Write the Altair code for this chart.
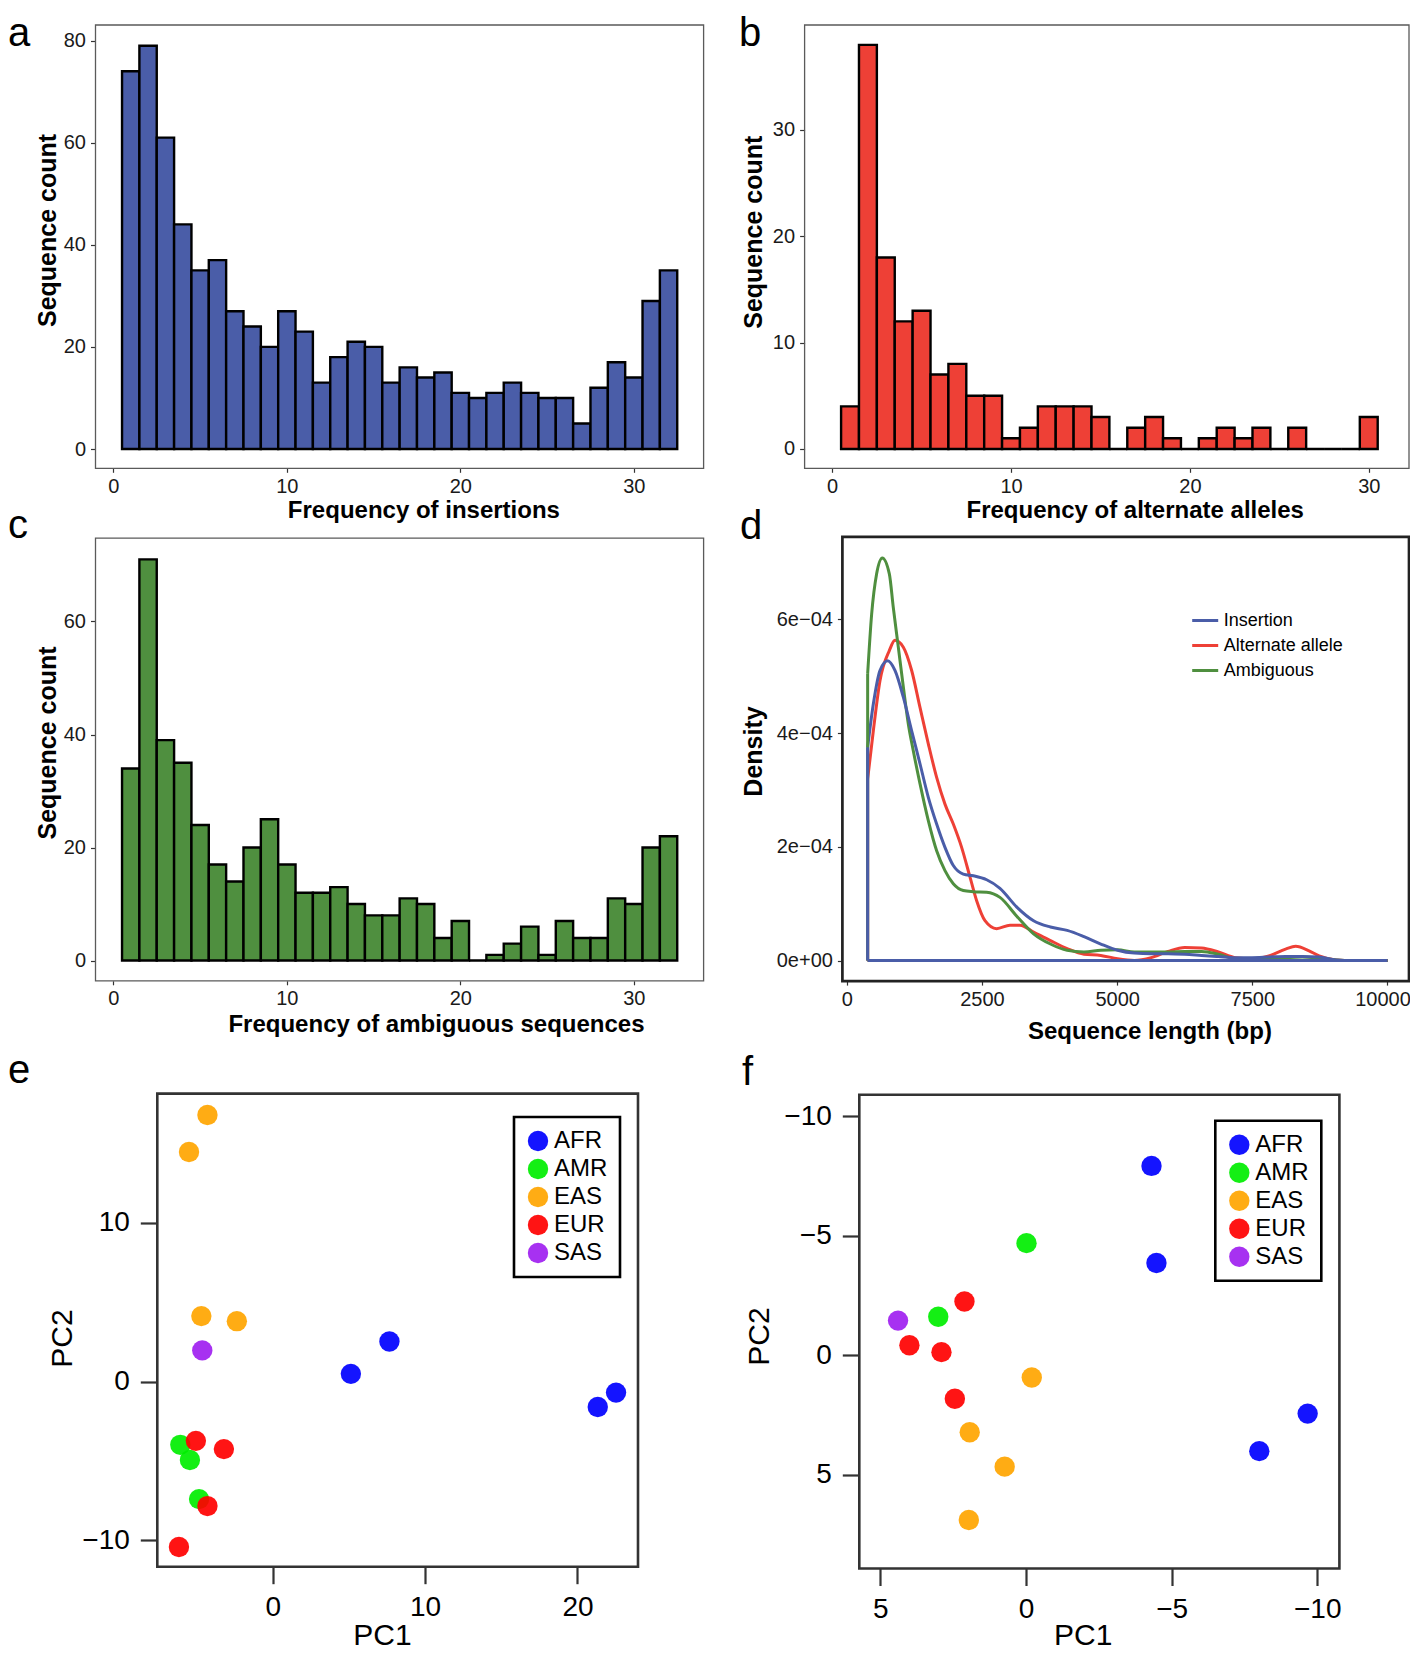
import altair as alt
import pandas as pd

W, H = 1402, 1644
FONT = "Liberation Sans, Arial, Helvetica, sans-serif"

# ---------------- data ----------------
ins_counts = [74, 79, 61, 44, 35, 37, 27, 24, 20, 27, 23, 13, 18, 21, 20, 13,
              16, 14, 15, 11, 10, 11, 13, 11, 10, 10, 5, 12, 17, 14, 29, 35]
alt_counts = [4, 38, 18, 12, 13, 7, 8, 5, 5, 1, 2, 4, 4, 4, 3, 0,
              2, 3, 1, 0, 1, 2, 1, 2, 0, 2, 0, 0, 0, 3]
amb_counts = [34, 71, 39, 35, 24, 17, 14, 20, 25, 17, 12, 12, 13, 10, 8, 8,
              11, 10, 4, 7, 0, 1, 3, 6, 1, 7, 4, 4, 11, 10, 20, 22]
hist_x_ticks = [0, 10, 20, 30]
a_y_ticks = [0, 20, 40, 60, 80]
b_y_ticks = [0, 10, 20, 30]
c_y_ticks = [0, 20, 40, 60]

# density curves (density in units of 1e-04)
ins_bp = [386, 491, 614, 756, 891, 1046, 1200, 1354, 1508, 1662, 1816, 1970, 2155, 2340,
          2587, 2833, 3144, 3455, 3766, 4076, 4387, 4698, 5008, 5319, 5630, 5941, 6251,
          6562, 6873, 7183, 7494, 7805, 8115, 8426, 8737, 9048, 9358, 9669, 10000]
ins_dens = [3.75, 4.51, 5.10, 5.27, 5.10, 4.63, 4.04, 3.46, 2.87, 2.40, 1.99, 1.67, 1.52, 1.49,
            1.42, 1.27, 0.94, 0.70, 0.59, 0.53, 0.42, 0.29, 0.18, 0.13, 0.12, 0.12, 0.11,
            0.09, 0.07, 0.05, 0.05, 0.06, 0.07, 0.07, 0.06, 0.01, 0.0, 0.0, 0.0]
alt_bp = [386, 491, 614, 787, 891, 1046, 1200, 1354, 1508, 1662, 1816, 1970, 2124, 2278,
          2402, 2556, 2772, 3018, 3203, 3455, 3766, 4076, 4387, 4698, 5008, 5319, 5630,
          5941, 6251, 6562, 6873, 7183, 7494, 7805, 8115, 8302, 8550, 8737, 9048, 9358, 10000]
alt_dens = [3.19, 4.04, 4.92, 5.45, 5.63, 5.51, 5.10, 4.45, 3.81, 3.22, 2.75, 2.40, 1.99, 1.47,
            1.05, 0.70, 0.56, 0.62, 0.62, 0.50, 0.35, 0.21, 0.11, 0.09, 0.03, 0.0, 0.05,
            0.16, 0.23, 0.22, 0.15, 0.05, 0.03, 0.08, 0.20, 0.25, 0.17, 0.08, 0.01, 0.0, 0.0]
amb_bp = [386, 460, 552, 657, 787, 860, 953, 1046, 1138, 1230, 1354, 1508, 1662, 1816,
          1970, 2155, 2340, 2587, 2833, 3144, 3455, 3766, 4076, 4387, 4698, 5008, 5319,
          5630, 5941, 6251, 6562, 6873, 7183, 7494, 7805, 8115, 8426, 8737, 9048, 9358, 10000]
amb_dens = [5.04, 6.09, 6.80, 7.08, 6.80, 6.21, 5.51, 4.81, 4.16, 3.69, 3.11, 2.46, 1.93, 1.58,
            1.35, 1.23, 1.21, 1.20, 1.11, 0.78, 0.47, 0.29, 0.18, 0.15, 0.18, 0.19, 0.15,
            0.15, 0.15, 0.16, 0.16, 0.11, 0.03, 0.01, 0.03, 0.05, 0.06, 0.04, 0.01, 0.0, 0.0]
dens_legend = ["Insertion", "Alternate allele", "Ambiguous"]
d_x_ticks = [0, 2500, 5000, 7500, 10000]
d_y_ticks = [0, 2, 4, 6]
d_y_labels = ["0e+00", "2e\u221204", "4e\u221204", "6e\u221204"]

pops = ["AFR", "AMR", "EAS", "EUR", "SAS"]
e_pop = ["AFR", "AFR", "AFR", "AFR", "AMR", "AMR", "AMR", "EAS", "EAS", "EAS", "EAS",
         "EUR", "EUR", "EUR", "EUR", "SAS"]
e_pc1 = [5.13, 7.66, 21.33, 22.53, -6.06, -5.43, -4.83, -4.28, -5.49, -4.68, -2.35,
         -5.04, -3.20, -4.28, -6.15, -4.62]
e_pc2 = [0.49, 2.53, -1.60, -0.69, -3.98, -4.94, -7.40, 16.8, 14.47, 4.13, 3.81,
         -3.73, -4.25, -7.84, -10.42, 1.97]
f_pop = ["AFR", "AFR", "AFR", "AFR", "AMR", "AMR", "EAS", "EAS", "EAS", "EAS",
         "EUR", "EUR", "EUR", "EUR", "SAS"]
f_pc1 = [-4.31, -4.48, -9.67, -8.01, -0.02, 3.01, -0.20, 1.93, 0.73, 1.96,
         2.11, 4.00, 2.90, 2.44, 4.39]
f_pc2 = [-7.92, -3.86, 2.44, 4.01, -4.69, -1.61, 0.93, 3.22, 4.66, 6.89,
         -2.25, -0.42, -0.13, 1.82, -1.45]
e_x_ticks = [0, 10, 20]
e_y_ticks = [-10, 0, 10]
f_x_ticks = [5, 0, -5, -10]
f_y_ticks = [-10, -5, 0, 5]

# ---------------- layout (chart pixel coordinates) ----------------
P = {
    "a": dict(xd=[-1.03, 34.02], xr=[87.5, 695.6], yd=[-3.78, 83.07], yr=[460.3, 17.0]),
    "b": dict(xd=[-1.54, 32.25], xr=[796.6, 1401.0], yd=[-1.82, 39.87], yr=[460.3, 17.0]),
    "c": dict(xd=[-1.03, 34.02], xr=[87.5, 695.6], yd=[-3.58, 74.74], yr=[972.8, 530.2]),
    "d": dict(xd=[-81, 10398], xr=[834.4, 1401.0], yd=[-0.362, 7.449], yr=[973.1, 528.9]),
    "e": dict(xd=[-7.57, 23.97], xr=[149.3, 630.0], yd=[-11.66, 18.15], yr=[1558.7, 1085.6]),
    "f": dict(xd=[-10.76, 5.72], xr=[1331.4, 851.3], yd=[-10.9, 8.92], yr=[1086.7, 1560.5]),
}
BLUE, RED, GREEN = "#4A5DA8", "#EE4036", "#4F8F3F"
POP_COLORS = ["#0000FF", "#00EE00", "#FFA500", "#FF0000", "#A020F0"]


def sc(k, axis_ch):
    p = P[k]
    if axis_ch == "x":
        return alt.Scale(domain=p["xd"], range=p["xr"], zero=False, nice=False)
    return alt.Scale(domain=p["yd"], range=p["yr"], zero=False, nice=False)


def gg_x_axis(k, values, title, tx, ty, fmt="d", **extra):
    bottom = P[k]["yr"][0]
    kw = dict(orient="bottom", offset=bottom - H, values=values, format=fmt, title=title,
              titleX=tx, titleY=ty - bottom, titleAlign="center", titleBaseline="middle",
              titleAngle=0, titleFont=FONT, titleFontSize=24, titleFontWeight="bold",
              titleColor="black", labelFont=FONT, labelFontSize=20, labelColor="#1a1a1a",
              labelPadding=4, labelFlush=False, labelOverlap=False, tickSize=4,
              tickWidth=1.2, tickColor="#333333", domain=False, grid=False)
    kw.update(extra)
    return alt.Axis(**kw)


def gg_y_axis(k, values, title, tx, ty, expr=None):
    left = min(P[k]["xr"])
    kw = dict(orient="left", offset=-left, values=values, format="d", title=title,
              titleX=tx - left, titleY=ty, titleAlign="center", titleBaseline="middle",
              titleAngle=270, titleFont=FONT, titleFontSize=25, titleFontWeight="bold",
              titleColor="black", labelFont=FONT, labelFontSize=20, labelColor="#1a1a1a",
              labelPadding=5, labelFlush=False, labelOverlap=False, tickSize=5,
              tickWidth=1.2, tickColor="#333333", domain=False, grid=False)
    if expr:
        kw["labelExpr"] = expr
    return alt.Axis(**kw)


def base_x_axis(k, values, tx, ty_base):
    bottom = max(P[k]["yr"])
    return alt.Axis(orient="bottom", offset=bottom - H, values=values, format="d", title="PC1",
                    titleX=tx, titleY=ty_base - bottom, titleAlign="center",
                    titleBaseline="alphabetic", titleAngle=0, titleFont=FONT, titleFontSize=30,
                    titleFontWeight="normal", titleColor="black", labelFont=FONT,
                    labelFontSize=28, labelColor="black", labelPadding=10, labelFlush=False,
                    labelOverlap=False, tickSize=17, tickWidth=2.2, tickColor="#333333",
                    domain=False, grid=False)


def base_y_axis(k, values, tx, ty):
    left = min(P[k]["xr"])
    return alt.Axis(orient="left", offset=-left, values=values, format="d", title="PC2",
                    titleX=tx - left, titleY=ty, titleAlign="center", titleBaseline="middle",
                    titleAngle=270, titleFont=FONT, titleFontSize=30, titleFontWeight="normal",
                    titleColor="black", labelFont=FONT, labelFontSize=28, labelColor="black",
                    labelPadding=11, labelFlush=False, labelOverlap=False, tickSize=17,
                    tickWidth=2.2, tickColor="#333333", domain=False, grid=False)


def frame(k, color, sw):
    p = P[k]
    df = pd.DataFrame({"x0": [p["xd"][0]], "x1": [p["xd"][1]],
                       "y0": [p["yd"][0]], "y1": [p["yd"][1]]})
    return alt.Chart(df).mark_rect(fillOpacity=0, stroke=color, strokeWidth=sw).encode(
        x=alt.X("x0:Q", scale=sc(k, "x"), axis=None), x2="x1:Q",
        y=alt.Y("y0:Q", scale=sc(k, "y"), axis=None), y2="y1:Q")


def letter(t, x, y):
    return alt.Chart(pd.DataFrame({"t": [t]})).mark_text(
        align="left", baseline="alphabetic", font=FONT, fontSize=40, color="black").encode(
        text="t:N", x=alt.value(x), y=alt.value(y))


def hist(k, counts, color, xaxis, yaxis):
    df = pd.DataFrame({"mid": list(range(1, len(counts) + 1)), "count": counts})
    df["lo"] = df["mid"] - 0.5
    df["hi"] = df["mid"] + 0.5
    return alt.Chart(df).mark_bar(fill=color, stroke="black", strokeWidth=2.4).encode(
        x=alt.X("lo:Q", scale=sc(k, "x"), axis=xaxis), x2="hi:Q",
        y=alt.Y("count:Q", scale=sc(k, "y"), axis=yaxis), y2=alt.datum(0))


layers = []

# panel a
layers.append(hist("a", ins_counts, BLUE,
                   gg_x_axis("a", hist_x_ticks, "Frequency of insertions", 415.4, 502),
                   gg_y_axis("a", a_y_ticks, "Sequence count", 39, 222)))
layers.append(frame("a", "#5a5a5a", 1.3))
# panel b
layers.append(hist("b", alt_counts, RED,
                   gg_x_axis("b", hist_x_ticks, "Frequency of alternate alleles", 1126.7, 502),
                   gg_y_axis("b", b_y_ticks, "Sequence count", 745, 223.7)))
layers.append(frame("b", "#5a5a5a", 1.3))
# panel c
layers.append(hist("c", amb_counts, GREEN,
                   gg_x_axis("c", hist_x_ticks, "Frequency of ambiguous sequences", 428, 1016),
                   gg_y_axis("c", c_y_ticks, "Sequence count", 39, 734.5)))
layers.append(frame("c", "#5a5a5a", 1.3))

# panel d: density lines (drawn red, green, blue)
dcol = alt.Scale(domain=dens_legend, range=[BLUE, RED, GREEN])
dfd = pd.concat([
    pd.DataFrame({"series": "Alternate allele", "bp": alt_bp, "dens": alt_dens}),
    pd.DataFrame({"series": "Ambiguous", "bp": amb_bp, "dens": amb_dens}),
    pd.DataFrame({"series": "Insertion", "bp": ins_bp, "dens": ins_dens}),
], ignore_index=True)
d_expr = "[" + ",".join("'%s'" % s for s in d_y_labels) + "][round(datum.value/2)]"
last_tick = d_x_ticks[-1]
d_xaxis = gg_x_axis("d", d_x_ticks, "Sequence length (bp)", 1141.4, 1023,
                    labelOffset={"condition": {"test": "datum.value == %d" % last_tick,
                                               "value": -5}, "value": 0})
layers.append(alt.Chart(dfd).mark_line(interpolate="monotone", strokeWidth=3).encode(
    x=alt.X("bp:Q", scale=sc("d", "x"), axis=d_xaxis),
    y=alt.Y("dens:Q", scale=sc("d", "y"),
            axis=gg_y_axis("d", d_y_ticks, "Density", 745, 743, expr=d_expr)),
    color=alt.Color("series:N", scale=dcol, legend=alt.Legend(
        orient="none", legendX=1182.7, legendY=598, title=None, symbolType="stroke",
        symbolStrokeWidth=3, symbolSize=676, labelFont=FONT, labelFontSize=18,
        labelColor="black", labelOffset=4, rowPadding=1, padding=0))))
# polygon edges (left side and baseline) of each density
rows = []
for s, bp, dn in [("Alternate allele", alt_bp, alt_dens), ("Ambiguous", amb_bp, amb_dens),
                  ("Insertion", ins_bp, ins_dens)]:
    rows.append(dict(series=s, x0=bp[0], x1=bp[0], y0=0.0, y1=dn[0]))
    rows.append(dict(series=s, x0=bp[0], x1=bp[-1], y0=0.0, y1=0.0))
layers.append(alt.Chart(pd.DataFrame(rows)).mark_rule(strokeWidth=3).encode(
    x=alt.X("x0:Q", scale=sc("d", "x"), axis=None), x2="x1:Q",
    y=alt.Y("y0:Q", scale=sc("d", "y"), axis=None), y2="y1:Q",
    color=alt.Color("series:N", scale=dcol, legend=None)))
layers.append(frame("d", "#222222", 2.7))


def pca(k, pop, pc1, pc2, xaxis, yaxis, lx, ly):
    df = pd.DataFrame({"pop": pop, "pc1": pc1, "pc2": pc2})
    return alt.Chart(df).mark_circle(size=415, opacity=0.92).encode(
        x=alt.X("pc1:Q", scale=sc(k, "x"), axis=xaxis),
        y=alt.Y("pc2:Q", scale=sc(k, "y"), axis=yaxis),
        color=alt.Color("pop:N", scale=alt.Scale(domain=pops, range=POP_COLORS),
                        legend=alt.Legend(orient="none", legendX=lx, legendY=ly, title=None,
                                          symbolType="circle", symbolSize=415,
                                          symbolStrokeWidth=0, symbolOpacity=0.92,
                                          labelFont=FONT, labelFontSize=24, labelColor="black",
                                          labelOffset=4, rowPadding=4, padding=12,
                                          strokeColor="black")))


layers.append(pca("e", e_pop, e_pc1, e_pc2, base_x_axis("e", e_x_ticks, 374, 1636),
                  base_y_axis("e", e_y_ticks, 54, 1330), 506, 1109))
layers.append(frame("e", "#333333", 2.6))
layers.append(pca("f", f_pop, f_pc1, f_pc2, base_x_axis("f", f_x_ticks, 1074.7, 1636),
                  base_y_axis("f", f_y_ticks, 751, 1328), 1207.3, 1112.8))
layers.append(frame("f", "#333333", 2.6))

for t, x, y in [("a", 0, 38), ("b", 731, 38), ("c", 0, 529.5), ("d", 732, 531),
                ("e", 0, 1075), ("f", 734, 1077)]:
    layers.append(letter(t, x, y))

chart = alt.layer(*layers).resolve_scale(
    x="independent", y="independent", color="independent"
).properties(
    width=W, height=H, autosize=alt.AutoSizeParams(type="none"), padding=0
).configure_view(stroke=None).configure_legend(strokeWidth=2.6)

chart.save("out.html", embed_options={"renderer": "svg", "actions": False})
